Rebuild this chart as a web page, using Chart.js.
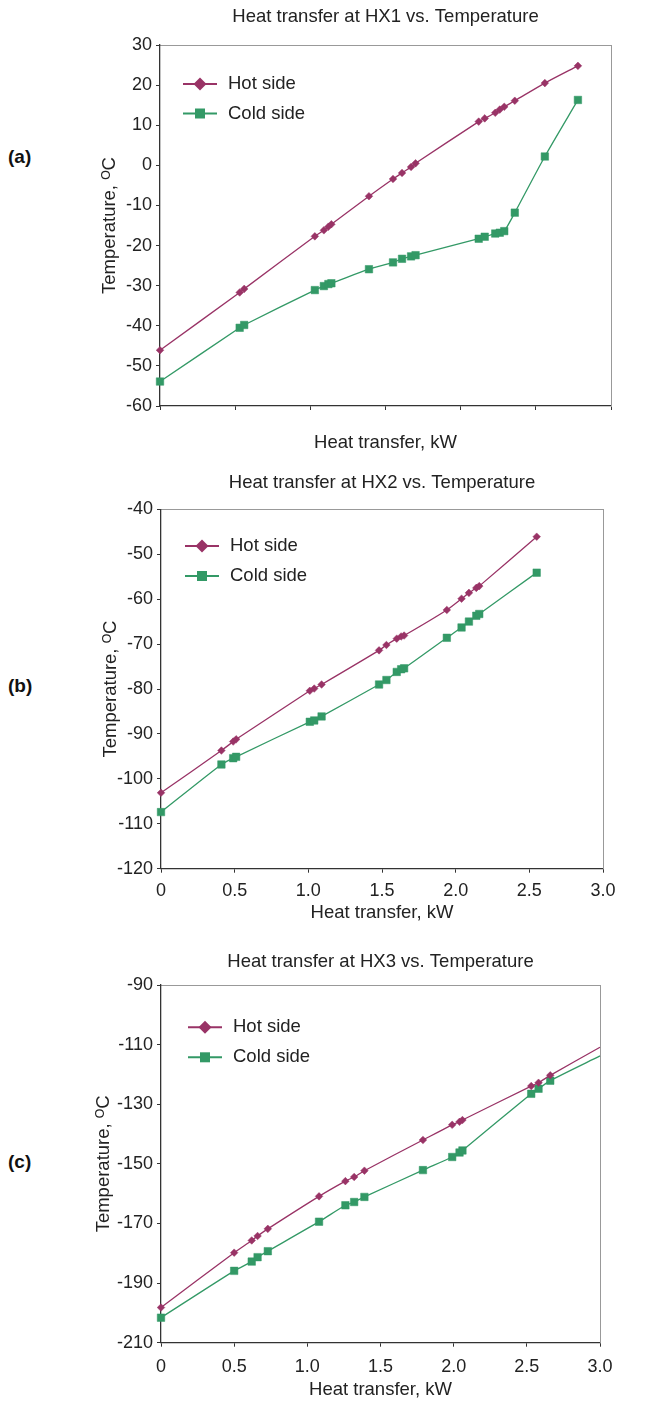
<!DOCTYPE html>
<html>
<head>
<meta charset="utf-8">
<script src="https://cdn.jsdelivr.net/npm/chart.js@4.4.1/dist/chart.umd.min.js"></script>
<style>
  body { margin: 0; background: #fff; width: 645px; height: 1402px; position: relative; overflow: hidden;
         font-family: "Liberation Sans", Arial, sans-serif; }
  .panel { position: absolute; left: 0; }
  .tag { position: absolute; left: 8px; font-weight: bold; font-size: 19px; line-height: 22px; color: #111; }
</style>
</head>
<body>
<div class="tag" style="top:146px">(a)</div>
<div class="tag" style="top:675px">(b)</div>
<div class="tag" style="top:1151px">(c)</div>
<div class="panel" style="top:0"><canvas id="hx1" width="645" height="460"></canvas></div>
<div class="panel" style="top:462px"><canvas id="hx2" width="645" height="470"></canvas></div>
<div class="panel" style="top:935px"><canvas id="hx3" width="645" height="467"></canvas></div>
<script>
// HX1: heat transferred (kW) and stream temperatures (°C)
const hx1Q    = [0.00, 0.53, 0.56, 1.03, 1.09, 1.12, 1.14, 1.39, 1.55, 1.61, 1.67, 1.70, 2.12, 2.16, 2.23, 2.26, 2.29, 2.36, 2.56, 2.78]
const hx1Hot  = [-46.1, -31.7, -30.8, -17.7, -16.2, -15.3, -14.7, -7.7, -3.4, -1.9, -0.4, 0.5, 10.9, 11.7, 13.1, 13.9, 14.6, 16.1, 20.5, 24.8]
const hx1Cold = [-53.9, -40.5, -39.8, -31.1, -30.1, -29.6, -29.4, -25.9, -24.2, -23.3, -22.7, -22.4, -18.3, -17.8, -17.0, -16.8, -16.4, -11.8, 2.2, 16.3]

// HX2
const hx2Q    = [0.00, 0.41, 0.49, 0.51, 1.01, 1.04, 1.09, 1.48, 1.53, 1.60, 1.63, 1.65, 1.94, 2.04, 2.09, 2.14, 2.16, 2.55]
const hx2Hot  = [-103.1, -93.7, -91.7, -91.2, -80.4, -79.9, -79.0, -71.4, -70.2, -68.8, -68.3, -68.1, -62.4, -59.9, -58.6, -57.5, -57.1, -46.1]
const hx2Cold = [-107.4, -96.8, -95.4, -95.1, -87.3, -87.0, -86.1, -79.0, -78.0, -76.2, -75.6, -75.4, -68.6, -66.3, -65.0, -63.7, -63.3, -54.1]

// HX3 (last entry is the curve end at the frame, no marker)
const hx3Q    = [0.00, 0.50, 0.62, 0.66, 0.73, 1.08, 1.26, 1.32, 1.39, 1.79, 1.99, 2.04, 2.06, 2.53, 2.58, 2.66, 3.00]
const hx3Hot  = [-198.2, -179.8, -175.7, -174.2, -171.8, -160.9, -155.8, -154.4, -152.3, -142.0, -136.9, -135.9, -135.3, -123.9, -122.8, -120.3, -110.9]
const hx3Cold = [-201.6, -185.9, -182.8, -181.3, -179.3, -169.4, -163.9, -162.8, -161.1, -152.1, -147.7, -146.2, -145.5, -126.5, -124.8, -122.1, -113.8]

const seriesNames = ["Hot side", "Cold side"]
const HOT = "#993366"
const COLD = "#339966"
const FONT = '"Liberation Sans", Arial, sans-serif'

Chart.defaults.font.family = FONT
Chart.defaults.color = "#222"

// legend drawn inside the plot, Excel style: line with the marker on it
const insideLegend = {
    id: "insideLegend",
    afterDatasetsDraw(chart, args, opts) {
        const { ctx, chartArea } = chart
        ctx.save()
        chart.data.datasets.forEach((ds, i) => {
            const x = chartArea.left + opts.dx
            const y = chartArea.top + opts.dy + i * opts.gap
            const cx = x + 17
            ctx.strokeStyle = ds.borderColor
            ctx.lineWidth = 2
            ctx.beginPath()
            ctx.moveTo(x, y)
            ctx.lineTo(x + 34, y)
            ctx.stroke()
            ctx.fillStyle = ds.borderColor
            ctx.beginPath()
            if (ds.pointStyle === "rectRot") {
                ctx.moveTo(cx, y - 6.5)
                ctx.lineTo(cx + 6.5, y)
                ctx.lineTo(cx, y + 6.5)
                ctx.lineTo(cx - 6.5, y)
                ctx.closePath()
            } else {
                ctx.rect(cx - 5, y - 5, 10, 10)
            }
            ctx.fill()
            ctx.fillStyle = "#222"
            ctx.font = "18.5px " + FONT
            ctx.textBaseline = "middle"
            ctx.textAlign = "left"
            ctx.fillText(ds.label, x + 45, y)
        })
        ctx.restore()
    },
}

function makeChart(id, q, hot, cold, cfg) {
    const last = q.length - 1
    const radii = (r) => q.map((v, i) => (cfg.openEnd && i === last ? 0 : r))
    new Chart(document.getElementById(id), {
        type: "line",
        data: {
            datasets: [
                {
                    label: seriesNames[0],
                    data: q.map((x, i) => ({ x, y: hot[i] })),
                    borderColor: HOT,
                    backgroundColor: HOT,
                    borderWidth: 1.3,
                    pointStyle: "rectRot",
                    pointRadius: radii(3.8),
                    pointBorderWidth: 0.5,
                    tension: 0.25,
                    clip: 8,
                },
                {
                    label: seriesNames[1],
                    data: q.map((x, i) => ({ x, y: cold[i] })),
                    borderColor: COLD,
                    backgroundColor: COLD,
                    borderWidth: 1.3,
                    pointStyle: "rect",
                    pointRadius: radii(5.3),
                    pointBorderWidth: 0.5,
                    tension: 0.25,
                    clip: 8,
                },
            ],
        },
        options: {
            responsive: false,
            animation: false,
            layout: { padding: { left: cfg.padLeft, right: cfg.padRight, top: 0, bottom: 0 } },
            plugins: {
                legend: { display: false },
                tooltip: { enabled: false },
                insideLegend: cfg.legend,
            },
            scales: {
                x: {
                    type: "linear",
                    position: "bottom",
                    min: 0,
                    max: 3,
                    ticks: {
                        stepSize: 0.5,
                        padding: cfg.xTickPad,
                        font: { size: 18 },
                        color: "#222",
                        callback: (v) => (cfg.xLabels ? (v === 0 ? "0" : v.toFixed(1)) : ""),
                    },
                    grid: { drawOnChartArea: false, tickLength: 4, color: "#333" },
                    border: { color: "#333", width: 1.3 },
                    title: {
                        display: true,
                        text: "Heat transfer, kW",
                        font: { size: 18.5 },
                        padding: { top: 0, bottom: cfg.xTitlePad },
                    },
                    afterFit: (s) => { s.height = cfg.xAxisH },
                },
                x2: {
                    type: "linear",
                    position: "top",
                    min: 0,
                    max: 3,
                    ticks: { display: false },
                    grid: { drawOnChartArea: false, drawTicks: false },
                    border: { color: "#999", width: 1 },
                    title: {
                        display: true,
                        text: cfg.title,
                        font: { size: 18.5 },
                        padding: { top: cfg.titlePad, bottom: 0 },
                    },
                    afterFit: (s) => { s.height = cfg.topH },
                },
                y: {
                    position: "left",
                    min: cfg.yMin,
                    max: cfg.yMax,
                    ticks: {
                        stepSize: cfg.yStep,
                        padding: 4,
                        font: { size: 18 },
                        color: "#222",
                        callback: (v) => String(v),
                    },
                    grid: { drawOnChartArea: false, tickLength: 4, color: "#333" },
                    border: { color: "#333", width: 1.3 },
                    title: {
                        display: true,
                        text: "Temperature, \u1D3CC",
                        font: { size: 18.5 },
                        padding: { top: 4, bottom: 0 },
                    },
                    afterFit: (s) => { s.width = cfg.yAxisW },
                },
                y2: {
                    position: "right",
                    min: cfg.yMin,
                    max: cfg.yMax,
                    ticks: { display: false },
                    grid: { drawOnChartArea: false, drawTicks: false },
                    border: { color: "#999", width: 1 },
                    afterFit: (s) => { s.width = 20 },
                },
            },
        },
        plugins: [insideLegend],
    })
}

makeChart("hx1", hx1Q, hx1Hot, hx1Cold, {
    title: "Heat transfer at HX1 vs. Temperature",
    yMin: -60, yMax: 30, yStep: 10,
    padLeft: 95, yAxisW: 65, padRight: 14,
    topH: 45, titlePad: 5.9,
    xAxisH: 54, xTitlePad: 5.9, xTickPad: 8, xLabels: false,
    legend: { dx: 23, dy: 39, gap: 29.5 },
})

makeChart("hx2", hx2Q, hx2Hot, hx2Cold, {
    title: "Heat transfer at HX2 vs. Temperature",
    yMin: -120, yMax: -40, yStep: 10,
    padLeft: 96, yAxisW: 65, padRight: 22,
    topH: 47.3, titlePad: 9.9,
    xAxisH: 63.3, xTitlePad: 7.9, xTickPad: 8, xLabels: true,
    legend: { dx: 24, dy: 36.7, gap: 30 },
})

makeChart("hx3", hx3Q, hx3Hot, hx3Cold, {
    title: "Heat transfer at HX3 vs. Temperature",
    yMin: -210, yMax: -90, yStep: 20,
    padLeft: 89, yAxisW: 72, padRight: 25,
    topH: 50, titlePad: 15.9,
    xAxisH: 59.3, xTitlePad: 0.9, xTickPad: 10, xLabels: true,
    openEnd: true,
    legend: { dx: 27, dy: 42.3, gap: 30 },
})
</script>
</body>
</html>
